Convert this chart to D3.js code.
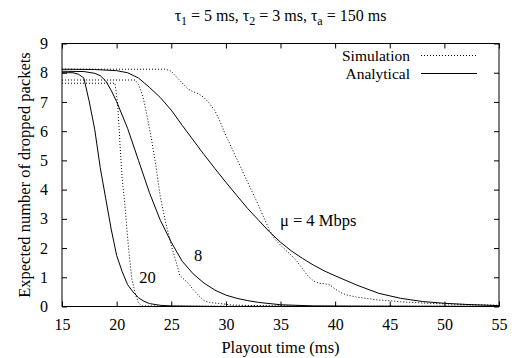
<!DOCTYPE html>
<html>
<head>
<meta charset="utf-8">
<script src="https://cdn.jsdelivr.net/npm/d3@7"></script>
<style>
  body { margin: 0; background: #fff; }
</style>
</head>
<body>
<svg id="chart" width="512" height="358"></svg>
<script>
// x ticks / y ticks
var xTicks = [15, 20, 25, 30, 35, 40, 45, 50, 55];
var yTicks = [0, 1, 2, 3, 4, 5, 6, 7, 8, 9];

// analytical curves (playout time in ms -> expected dropped packets)
var anaT4 = [15, 18, 20, 21, 22, 23, 24, 25, 26, 27, 28, 29, 30, 31, 32, 33, 34, 35, 36, 37, 38, 39, 40, 42, 44, 46, 48, 50, 52, 55];
var anaV4 = [8.12, 8.11, 8.07, 8.0, 7.82, 7.5, 7.15, 6.72, 6.2, 5.7, 5.2, 4.72, 4.25, 3.8, 3.35, 2.95, 2.55, 2.2, 1.9, 1.65, 1.42, 1.22, 1.05, 0.73, 0.45, 0.28, 0.17, 0.11, 0.07, 0.03];

var anaT8 = [15, 17, 18, 18.5, 19, 19.5, 20, 21, 22, 23, 24, 25, 26, 27, 28, 29, 30, 31, 32, 33, 35, 38, 42, 55];
var anaV8 = [8.05, 8.04, 7.98, 7.9, 7.72, 7.4, 7.01, 6.1, 5.0, 3.9, 2.95, 2.2, 1.55, 1.12, 0.8, 0.56, 0.39, 0.28, 0.2, 0.14, 0.06, 0.02, 0.01, 0];

var anaT20 = [15, 16, 16.5, 17, 17.5, 18, 18.5, 19, 19.5, 20, 20.5, 21, 21.5, 22, 22.5, 23, 24, 25, 27, 30, 55];
var anaV20 = [8.0, 8.0, 7.95, 7.82, 7.0, 6.05, 4.75, 3.7, 2.65, 1.75, 1.2, 0.75, 0.5, 0.3, 0.18, 0.1, 0.04, 0.02, 0.01, 0, 0];

// simulation curves
var simT4 = [15, 24.5, 25, 25.5, 26, 26.5, 27, 27.5, 28, 28.5, 29, 29.5, 30, 30.5, 31, 31.5, 32, 33, 34, 34.5, 35, 35.5, 36, 36.5, 37, 37.5, 38, 38.5, 39, 39.5, 40, 40.5, 41, 42, 43, 44, 45, 46, 48, 50, 52, 55];
var simV4 = [8.12, 8.12, 8.05, 7.85, 7.65, 7.45, 7.35, 7.28, 7.15, 6.95, 6.7, 6.3, 5.85, 5.45, 5.05, 4.65, 4.25, 3.45, 2.6, 2.3, 2.1, 1.92, 1.75, 1.55, 1.3, 1.05, 0.88, 0.8, 0.78, 0.74, 0.6, 0.48, 0.4, 0.32, 0.27, 0.22, 0.2, 0.16, 0.12, 0.09, 0.07, 0.04];

var simT8 = [15, 21.7, 22, 22.4, 22.8, 23.2, 23.6, 24, 24.5, 25, 25.5, 25.8, 26.2, 26.6, 27, 27.5, 28, 28.5, 29.5, 30.5, 33, 38, 55];
var simV8 = [7.75, 7.75, 7.6, 7.2, 6.5, 5.7, 4.8, 3.75, 2.85, 2.1, 1.45, 1.05, 0.92, 0.78, 0.58, 0.38, 0.2, 0.14, 0.1, 0.05, 0.03, 0.01, 0.01];

var simT20 = [15, 19.85, 20.1, 20.3, 20.5, 20.75, 21.1, 21.4, 21.7, 22, 22.3, 25, 55];
var simV20 = [7.64, 7.64, 6.9, 5.6, 4.4, 3.5, 1.95, 0.92, 0.45, 0.12, 0.02, 0.01, 0.01];

// curve labels: text, time, value (baseline)
var labelText = ["\u03bc = 4 Mbps", "8", "20"];
var labelT = [34.95, 27.45, 22.83];
var labelV = [2.77, 1.56, 0.79];

var FONT = "'Liberation Serif'";
var FS = 16.5;

var margin = {left: 62, right: 13, top: 43.5, bottom: 51.5};
var W = 512, H = 358;

var svg = d3.select("#chart");

var x = d3.scaleLinear().domain([15, 55]).range([margin.left, W - margin.right]);
var y = d3.scaleLinear().domain([0, 9]).range([H - margin.bottom, margin.top]);

function zip(ts, vs) {
  return ts.map(function(t, i) { return [t, vs[i]]; });
}

var line = d3.line()
    .x(function(d) { return x(d[0]); })
    .y(function(d) { return y(d[1]); });

// AXES (ticks point inward on all four sides)
function styleAxis(g) {
  g.attr("font-family", FONT).attr("font-size", 16);
  g.select(".domain").remove();
  g.selectAll("line").attr("stroke", "#000");
}

svg.append("g")
    .attr("transform", "translate(0," + y(0) + ")")
    .call(d3.axisBottom(x).tickValues(xTicks).tickSize(-5).tickPadding(12))
    .call(styleAxis);

svg.append("g")
    .attr("transform", "translate(0," + y(9) + ")")
    .call(d3.axisTop(x).tickValues(xTicks).tickSize(-5).tickFormat(""))
    .call(styleAxis);

svg.append("g")
    .attr("transform", "translate(" + x(15) + ",0)")
    .call(d3.axisLeft(y).tickValues(yTicks).tickSize(-5).tickPadding(14))
    .call(styleAxis);

svg.append("g")
    .attr("transform", "translate(" + x(55) + ",0)")
    .call(d3.axisRight(y).tickValues(yTicks).tickSize(-5).tickFormat(""))
    .call(styleAxis);

// frame
svg.append("rect")
    .attr("x", x(15))
    .attr("y", y(9))
    .attr("width", x(55) - x(15))
    .attr("height", y(0) - y(9))
    .attr("fill", "none")
    .attr("stroke", "#000")
    .attr("stroke-width", 1);

// CURVES
var sims = [zip(simT4, simV4), zip(simT8, simV8), zip(simT20, simV20)];
var anas = [zip(anaT4, anaV4), zip(anaT8, anaV8), zip(anaT20, anaV20)];

svg.append("g").selectAll("path")
    .data(sims)
    .enter().append("path")
    .attr("d", line)
    .attr("fill", "none")
    .attr("stroke", "#000")
    .attr("stroke-width", 1)
    .attr("stroke-dasharray", "1,2");

svg.append("g").selectAll("path")
    .data(anas)
    .enter().append("path")
    .attr("d", line)
    .attr("fill", "none")
    .attr("stroke", "#000")
    .attr("stroke-width", 1);

// curve labels
svg.append("g").selectAll("text")
    .data(labelText)
    .enter().append("text")
    .attr("x", function(d, i) { return x(labelT[i]); })
    .attr("y", function(d, i) { return y(labelV[i]); })
    .attr("text-anchor", function(d, i) { return i == 0 ? "start" : "middle"; })
    .attr("font-family", FONT)
    .attr("font-size", FS)
    .text(function(d) { return d; });

// LEGEND
var legend = svg.append("g");
[["Simulation", "1,2", 55.5], ["Analytical", null, 73.5]].forEach(function(e) {
  legend.append("text")
      .attr("x", 410)
      .attr("y", e[2] + 5.5)
      .attr("text-anchor", "end")
      .attr("font-family", FONT)
      .attr("font-size", 15.5)
      .text(e[0]);
  legend.append("line")
      .attr("x1", 421).attr("x2", 477)
      .attr("y1", e[2]).attr("y2", e[2])
      .attr("stroke", "#000")
      .attr("stroke-dasharray", e[1]);
});

// TITLE
var title = svg.append("text")
    .attr("x", (x(15) + x(55)) / 2)
    .attr("y", 20.5)
    .attr("text-anchor", "middle")
    .attr("font-family", FONT)
    .attr("font-size", 16);
[["\u03c4", "1", " = 5 ms, "], ["\u03c4", "2", " = 3 ms, "], ["\u03c4", "a", " = 150 ms"]].forEach(function(p) {
  title.append("tspan").text(p[0]);
  title.append("tspan").attr("dy", 4).attr("font-size", 12).text(p[1]);
  title.append("tspan").attr("dy", -4).text(p[2]);
});

// AXIS LABELS
svg.append("text")
    .attr("x", (x(15) + x(55)) / 2)
    .attr("y", 353)
    .attr("text-anchor", "middle")
    .attr("font-family", FONT)
    .attr("font-size", FS)
    .text("Playout time (ms)");

svg.append("text")
    .attr("transform", "translate(30," + (y(0) + y(9)) / 2 + ") rotate(-90)")
    .attr("text-anchor", "middle")
    .attr("font-family", FONT)
    .attr("font-size", FS)
    .text("Expected number of dropped packets");
</script>
</body>
</html>
